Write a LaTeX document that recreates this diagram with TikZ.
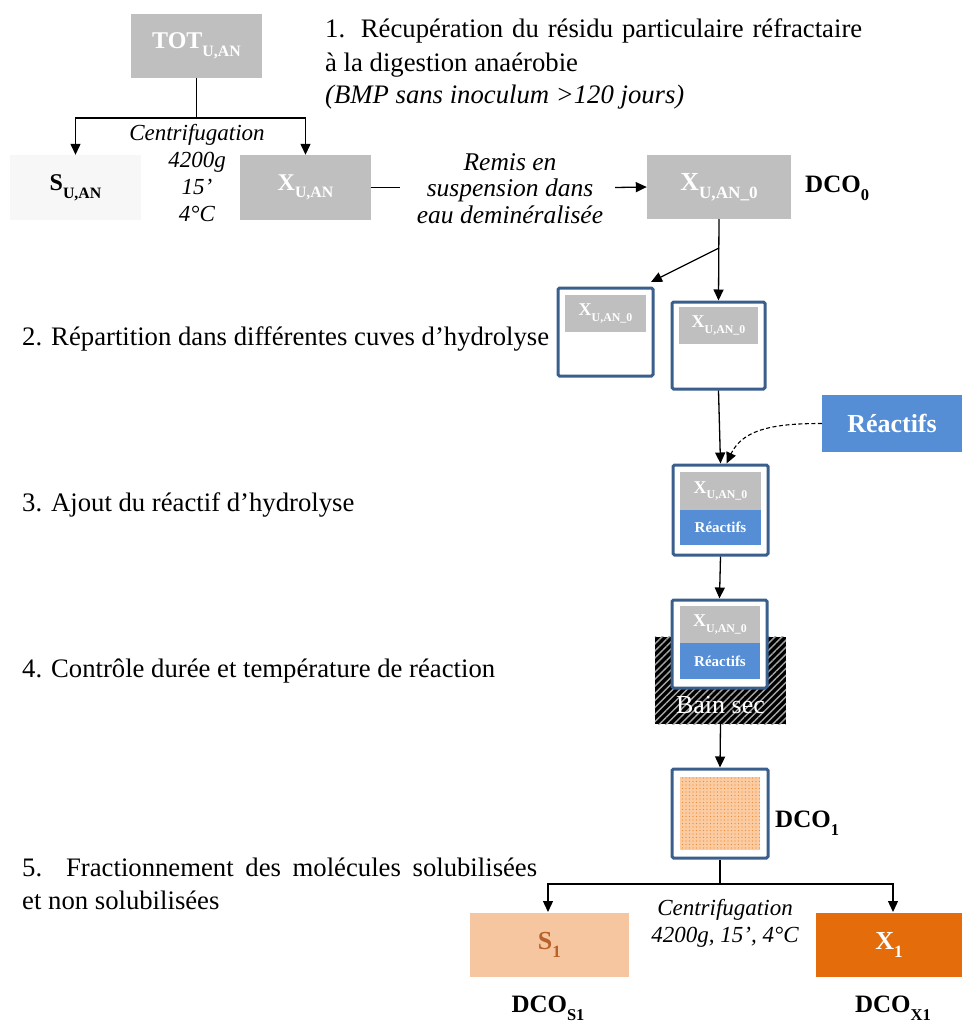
\documentclass[tikz,border=0pt]{standalone}
\usepackage{fontspec}
\setmainfont{Liberation Serif}
\usetikzlibrary{patterns.meta,arrows.meta}
\definecolor{boxgray}{HTML}{BFBFBF}
\definecolor{palegray}{HTML}{F7F7F7}
\definecolor{frameblue}{HTML}{3B5F8C}
\definecolor{reacblue}{HTML}{558ED5}
\definecolor{peach}{HTML}{F5C6A0}
\definecolor{peachtxt}{HTML}{B8612A}
\definecolor{orng}{HTML}{E46C0A}
\definecolor{lightorng}{HTML}{FBCBA2}
\definecolor{dotorng}{HTML}{EE8A34}
\newcommand\dn[1]{\raisebox{-0.32em}{\scalebox{0.66}{#1}}}
\newcommand\fs[1]{\fontsize{#1}{#1}\selectfont}
\begin{document}
\begin{tikzpicture}[x=1pt,y=-1pt,
  conn/.style={line width=1.3pt,draw=black},
  arr/.style={conn,-{Triangle[length=11pt,width=10pt]}},
  gbox/.style={fill=boxgray,inner sep=0,text=white,font=\bfseries\fs{24}},
  cup/.style={draw=frameblue,line width=3pt,rounded corners=1.5pt,fill=white,inner sep=0},
  ingray/.style={fill=boxgray,inner sep=0,text=white,font=\bfseries\fs{18}},
  inblue/.style={fill=reacblue,inner sep=0,text=white,font=\bfseries\fs{15}},
  body/.style={anchor=base west,inner sep=0,font=\fs{26.7}},
  ital/.style={align=center,inner sep=0,font=\itshape\fontsize{23}{26.7}\selectfont},
  dco/.style={inner sep=0,font=\bfseries\fs{25}}]
\useasboundingbox (0,0) rectangle (962,1023);

% top boxes
\node[gbox,minimum width=131pt,minimum height=64pt] (tot) at (196.5,46) {TOT\dn{U,AN}};
\node[gbox,fill=palegray,text=black,minimum width=131pt,minimum height=65pt] (s) at (75.5,187.5) {S\dn{U,AN}};
\node[gbox,minimum width=131pt,minimum height=65pt] (x) at (305.5,187.5) {X\dn{U,AN}};
\node[gbox,font=\bfseries\fs{26},minimum width=144pt,minimum height=64pt] (x0) at (719,187) {X\dn{U,AN\_0}};
\node[dco,anchor=west] (dco0) at (805,188) {DCO\dn{0}};

\coordinate (c1) at (196.5,118);
\draw[conn] (tot.south) -- (c1);
\draw[arr] (c1) -| (s.north);
\draw[arr] (c1) -| (x.north);

\node[ital] (cent1) at (197,173) {Centrifugation\\4200g\\15’\\4°C};
\node[ital,font=\itshape\fontsize{25.5}{26.5}\selectfont] (remis) at (510,188.5) {Remis en\\suspension dans\\eau deminéralisée};
\coordinate (r1) at (400,187.5);
\coordinate (r2) at (615,187.5);
\draw[conn] (x.east) -- (r1);
\draw[arr] (r2) -- (x0.west);

% step 1 text
\node[body] (t1a) at (325,37) {\makebox[537pt][s]{1. Récupération du résidu particulaire réfractaire}};
\node[body] (t1b) at (325,71) {à la digestion anaérobie};
\node[body,font=\itshape\fs{26.7}] (t1c) at (325,103) {(BMP sans inoculum >120 jours)};

% cups
\node[cup,minimum width=95pt,minimum height=88pt] (cupL) at (605.5,332) {};
\node[ingray,minimum width=81pt,minimum height=37pt] (cupLi) at (605.5,313.5) {X\dn{U,AN\_0}};
\node[cup,minimum width=93pt,minimum height=87pt] (cupR) at (718.5,345.5) {};
\node[ingray,minimum width=79pt,minimum height=37pt] (cupRi) at (718.5,325.5) {X\dn{U,AN\_0}};

\coordinate (c2) at (719,248);
\coordinate (c3) at (651,282);
\draw[arr] (c2) -- (c3);
\draw[arr] (x0.south) -- (cupR.north);

\node[body] (t2) at (22,345) {\makebox[527pt][s]{2. Répartition dans différentes cuves d’hydrolyse}};

% reactifs
\node[gbox,fill=reacblue,font=\bfseries\fs{26},minimum width=140pt,minimum height=57pt] (reac) at (892,423.5) {Réactifs};

\node[cup,minimum width=95pt,minimum height=90pt] (b3) at (720.5,510) {};
\node[ingray,minimum width=81pt,minimum height=38pt] (b3g) at (720.5,491) {X\dn{U,AN\_0}};
\node[inblue,minimum width=81pt,minimum height=35pt] (b3b) at (720.5,527.5) {Réactifs};
\draw[arr] (cupR.south) -- (b3.north);
\draw[conn,line width=1.1pt,dash pattern=on 4pt off 2.5pt,-{Triangle[length=11pt,width=10pt]}] (reac.west) to[out=180,in=65] ([xshift=6pt]b3.north);

\node[body] (t3) at (22,511) {3. Ajout du réactif d’hydrolyse};

% bain sec
\node[fill=black,minimum width=131pt,minimum height=87pt,inner sep=0] (bain) at (720.5,680.5) {};
\fill[pattern={Lines[angle=45,distance=5pt,line width=1.4pt]},pattern color=white!65!black] (bain.north west) rectangle (bain.south east);
\node[text=white,font=\fs{26},inner sep=0] (baintxt) at (720.5,705) {Bain sec};
\node[cup,minimum width=95pt,minimum height=88pt] (b4) at (719.5,644) {};
\node[ingray,minimum width=80pt,minimum height=37pt] (b4g) at (720,624.5) {X\dn{U,AN\_0}};
\node[inblue,minimum width=80pt,minimum height=36pt] (b4b) at (720,661) {Réactifs};
\draw[arr] (b3.south) -- (b4.north);

\node[body] (t4) at (22,677) {4. Contrôle durée et température de réaction};

% box 5
\node[cup,minimum width=96pt,minimum height=89pt] (b5) at (720,813.5) {};
\node[fill=lightorng,minimum width=80pt,minimum height=73pt,inner sep=0] (b5i) at (720,813.5) {};
\fill[pattern={Dots[radius=0.6pt,distance=3.5pt]},pattern color=dotorng] (b5i.north west) rectangle (b5i.south east);
\draw[arr] (bain.south) -- (b5.north);
\node[dco,anchor=west] (dco1) at (775,823) {DCO\dn{1}};

\node[body] (t5a) at (22,876) {\makebox[515pt][s]{5. Fractionnement des molécules solubilisées}};
\node[body] (t5b) at (22,909) {et non solubilisées};

% bottom
\node[gbox,fill=peach,text=peachtxt,font=\bfseries\fs{26},minimum width=159pt,minimum height=64pt] (s1) at (549.5,945) {S\dn{1}};
\node[gbox,fill=orng,font=\bfseries\fs{26},minimum width=146pt,minimum height=64pt] (x1) at (889,945) {X\dn{1}};
\coordinate (c4) at (720,884);
\coordinate (s1t) at (548,912);
\coordinate (x1t) at (893,912);
\draw[conn] (b5.south) -- (c4);
\draw[arr] (c4) -| (s1t);
\draw[arr] (c4) -| (x1t);
\node[ital] (cent2) at (725,923.5) {Centrifugation\\4200g, 15’, 4°C};
\node[dco] (dcos1) at (548,1008) {DCO\dn{S1}};
\node[dco] (dcox1) at (893,1008) {DCO\dn{X1}};
\end{tikzpicture}
\end{document}
